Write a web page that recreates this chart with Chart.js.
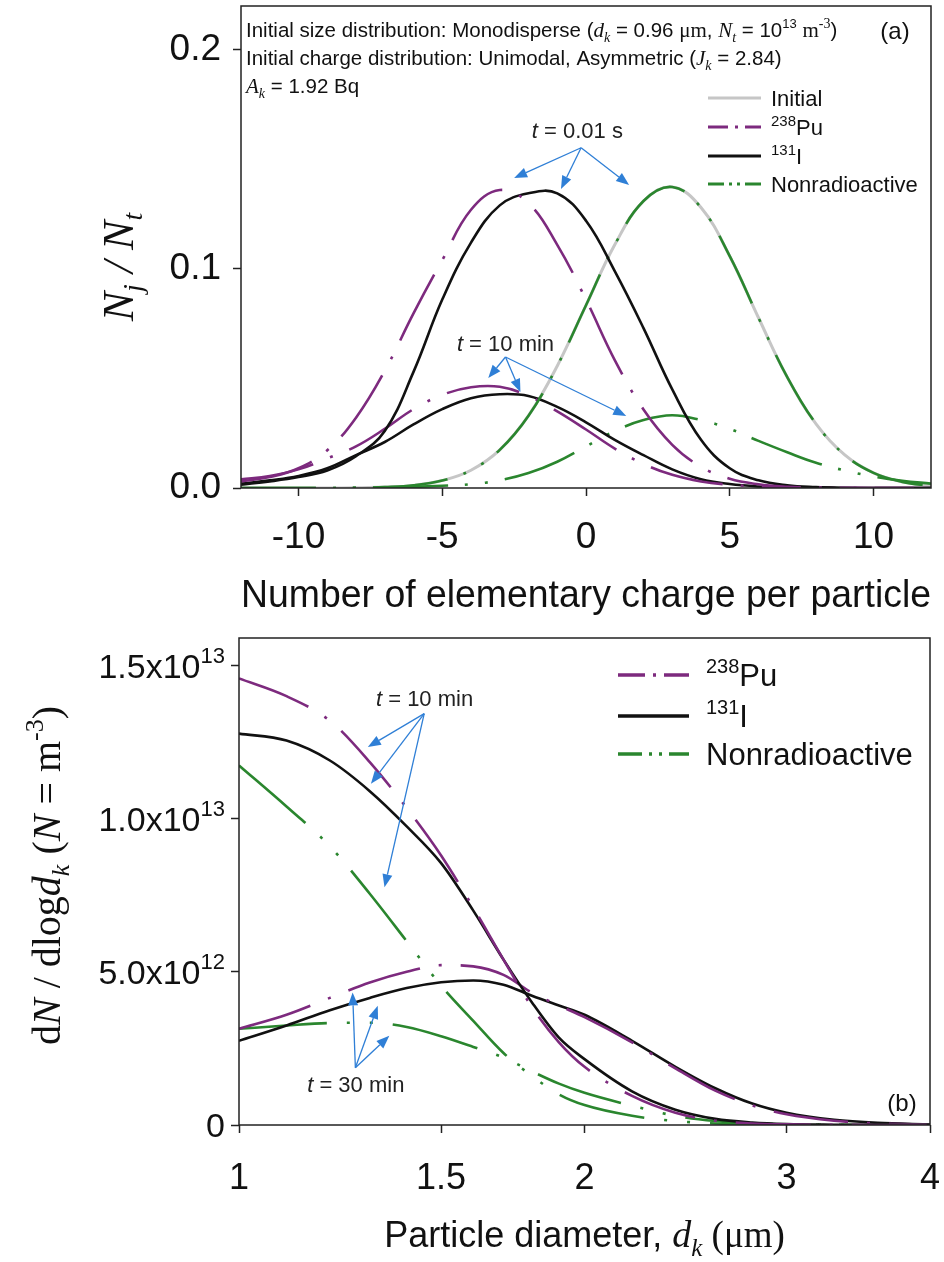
<!DOCTYPE html>
<html>
<head>
<meta charset="utf-8">
<script src="https://cdn.jsdelivr.net/npm/chart.js@4.4.2/dist/chart.umd.min.js"></script>
<style>
  html, body { margin: 0; padding: 0; background: #fff; }
  #wrap { position: relative; width: 944px; height: 1262px; overflow: hidden; }
  canvas { position: absolute; left: 0; }
  #cA { top: 0; }
  #cB { top: 625px; }
</style>
</head>
<body>
<div id="wrap">
  <canvas id="cA" width="944" height="625"></canvas>
  <canvas id="cB" width="944" height="637"></canvas>
</div>
<script>
const SANS = '"Liberation Sans", Arial, sans-serif';
const SERIF = '"Liberation Serif", "Times New Roman", serif';

const PURPLE = '#7d2a7e';
const GREEN = '#2a862e';
const BLACK = '#111111';
const GRAY = '#c6c6c6';
const BLUE = '#2f7fd6';

// --- panel (a): charge distribution ---
const charges = [-12, -11, -10, -9, -8, -7, -6, -5, -4, -3, -2, -1, 0, 1, 2, 3, 4, 5, 6, 7, 8, 9, 10, 11, 12];
const initialA = [0, 0, 0, 0, 0.0001, 0.0004, 0.0012, 0.0034, 0.0081, 0.0174, 0.033, 0.0557, 0.0834, 0.111, 0.131, 0.1374, 0.128, 0.1058, 0.0777, 0.0506, 0.0293, 0.0151, 0.0069, 0.0028, 0.001];
const pu001 = [0.003, 0.005, 0.009, 0.0172, 0.0321, 0.0535, 0.0797, 0.104, 0.127, 0.136, 0.130, 0.111, 0.086, 0.0584, 0.0358, 0.0197, 0.0097, 0.0042, 0.0017, 0.0006, 0.0002, 0.0001, 0, 0, 0];
const i001 = [0.0015, 0.003, 0.005, 0.008, 0.0145, 0.026, 0.053, 0.086, 0.112, 0.129, 0.1345, 0.1345, 0.122, 0.099, 0.073, 0.045, 0.022, 0.009, 0.0035, 0.0012, 0.0004, 0.0001, 0, 0, 0];
const nr001 = [0, 0, 0, 0, 0.0001, 0.0004, 0.0012, 0.0034, 0.0081, 0.0174, 0.033, 0.0557, 0.0834, 0.111, 0.131, 0.1374, 0.128, 0.1058, 0.0777, 0.0506, 0.0293, 0.0151, 0.0069, 0.0028, 0.001];
const pu10a = [0.004, 0.0055, 0.0085, 0.0135, 0.019, 0.027, 0.036, 0.0425, 0.046, 0.0462, 0.042, 0.035, 0.0267, 0.018, 0.011, 0.006, 0.003, 0.0015, 0.0007, 0.0003, 0.0001, 0, 0, 0, 0];
const i10a = [0.002, 0.0035, 0.0055, 0.009, 0.015, 0.021, 0.029, 0.036, 0.041, 0.0428, 0.042, 0.037, 0.03, 0.022, 0.015, 0.0085, 0.004, 0.0018, 0.0007, 0.0003, 0.0001, 0, 0, 0, 0];
const nr10a = [0, 0, 0, 0, 0.0001, 0.0002, 0.0005, 0.001, 0.0017, 0.0035, 0.0068, 0.012, 0.019, 0.026, 0.031, 0.0332, 0.031, 0.027, 0.0215, 0.0163, 0.0115, 0.008, 0.0052, 0.0033, 0.002];
const xTicksA = [-10, -5, 0, 5, 10];
const yTicksA = [0, 0.1, 0.2];

// --- panel (b): size distribution ---
const diameters = [1, 1.1, 1.2, 1.3, 1.4, 1.5, 1.6, 1.7, 1.8, 1.9, 2.0, 2.2, 2.4, 2.6, 2.8, 3.0, 3.3, 3.6, 4.0];
const pu10b = [1.458e13, 1.40e13, 1.32e13, 1.185e13, 1.035e13, 0.88e13, 0.71e13, 0.54e13, 0.385e13, 0.27e13, 0.19e13, 0.095e13, 0.04e13, 0.014e13, 0.005e13, 0.002e13, 0.0005e13, 0.0001e13, 0];
const i10b = [1.278e13, 1.255e13, 1.19e13, 1.09e13, 0.975e13, 0.855e13, 0.70e13, 0.54e13, 0.40e13, 0.285e13, 0.215e13, 0.11e13, 0.05e13, 0.02e13, 0.008e13, 0.003e13, 0.001e13, 0.0003e13, 0.0001e13];
const nr10b = [1.174e13, 1.04e13, 0.91e13, 0.755e13, 0.60e13, 0.455e13, 0.34e13, 0.235e13, 0.16e13, 0.10e13, 0.065e13, 0.03e13, 0.013e13, 0.005e13, 0.002e13, 0.001e13, 0.0003e13, 0.0001e13, 0];
const pu30b = [0.314e13, 0.36e13, 0.415e13, 0.465e13, 0.50e13, 0.522e13, 0.518e13, 0.49e13, 0.432e13, 0.39e13, 0.352e13, 0.27e13, 0.185e13, 0.112e13, 0.064e13, 0.035e13, 0.014e13, 0.005e13, 0.001e13];
const i30b = [0.275e13, 0.325e13, 0.375e13, 0.415e13, 0.447e13, 0.466e13, 0.472e13, 0.458e13, 0.422e13, 0.39e13, 0.36e13, 0.275e13, 0.19e13, 0.12e13, 0.07e13, 0.04e13, 0.017e13, 0.007e13, 0.002e13];
const nr30b = [0.314e13, 0.325e13, 0.333e13, 0.334e13, 0.32e13, 0.29e13, 0.255e13, 0.22e13, 0.175e13, 0.135e13, 0.105e13, 0.063e13, 0.03e13, 0.013e13, 0.005e13, 0.002e13, 0.0006e13, 0.0002e13, 0];
const xTicksB = [1, 1.5, 2, 3, 4];
const yTicksB = [0, 5e12, 1e13, 1.5e13];
const yTickLabelsB = [['0', ''], ['5.0x10', '12'], ['1.0x10', '13'], ['1.5x10', '13']];

// callouts in data units
const calloutsA = [
  { text: '0.01 s', at: [-0.3, 0.1634], from: [-0.17, 0.1553], to: [[-2.5, 0.1415], [-0.87, 0.1365], [1.5, 0.1383]] },
  { text: '10 min', at: [-2.8, 0.066], from: [-2.8, 0.0598], to: [[-3.4, 0.0502], [-2.28, 0.0438], [1.4, 0.0329]] }
];
const calloutsB = [
  { text: '10 min', at: [1.451, 1.393e13], from: [1.45, 1.343e13], to: [[1.295, 1.234e13], [1.303, 1.114e13], [1.339, 0.776e13]] },
  { text: '30 min', at: [1.264, 0.134e13], from: [1.263, 0.187e13], to: [[1.256, 0.433e13], [1.321, 0.389e13], [1.352, 0.291e13]] }
];

const DASH_PU_A = [74, 18, 3, 18];
const DASH_NR_A = [75, 17, 3, 17, 3, 17];
const DASH_PU_B = [75, 19, 3, 19];
const DASH_NR_B = [88, 20, 3, 20, 3, 20];

function rich(ctx, x, y, runs, align) {
  let w = 0;
  for (const r of runs) { ctx.font = r[1]; w += ctx.measureText(r[0]).width; }
  let cx = align === 'center' ? x - w / 2 : align === 'right' ? x - w : x;
  ctx.textAlign = 'left';
  ctx.textBaseline = 'alphabetic';
  for (const r of runs) {
    ctx.font = r[1];
    ctx.fillText(r[0], cx, y + (r[2] || 0));
    cx += ctx.measureText(r[0]).width;
  }
  return w;
}

function arrow(ctx, x0, y0, x1, y1) {
  const ang = Math.atan2(y1 - y0, x1 - x0);
  const L = 13, W = 5;
  const bx = x1 - L * Math.cos(ang), by = y1 - L * Math.sin(ang);
  ctx.beginPath(); ctx.moveTo(x0, y0); ctx.lineTo(bx, by); ctx.stroke();
  ctx.beginPath();
  ctx.moveTo(x1, y1);
  ctx.lineTo(bx + W * Math.sin(ang), by - W * Math.cos(ang));
  ctx.lineTo(bx - W * Math.sin(ang), by + W * Math.cos(ang));
  ctx.closePath(); ctx.fill();
}

function drawCallouts(ctx, x, y, list) {
  ctx.save();
  ctx.strokeStyle = BLUE; ctx.fillStyle = BLUE; ctx.lineWidth = 1.3;
  list.forEach(c => {
    const ox = x.getPixelForValue(c.from[0]), oy = y.getPixelForValue(c.from[1]);
    c.to.forEach(t => arrow(ctx, ox, oy, x.getPixelForValue(t[0]), y.getPixelForValue(t[1])));
  });
  ctx.fillStyle = '#222';
  list.forEach(c => {
    rich(ctx, x.getPixelForValue(c.at[0]), y.getPixelForValue(c.at[1]) + 8,
      [['t', 'italic 22px ' + SANS], [' = ' + c.text, '22px ' + SANS]], 'center');
  });
  ctx.restore();
}

function drawLegend(ctx, items, x0, x1, tx, ys, size, width) {
  items.forEach((it, i) => {
    const y = ys[i];
    ctx.save();
    ctx.strokeStyle = it.color; ctx.lineWidth = width; ctx.setLineDash(it.dash);
    ctx.beginPath(); ctx.moveTo(x0, y); ctx.lineTo(x1, y); ctx.stroke();
    ctx.restore();
    ctx.fillStyle = '#111';
    const sup = Math.round(size * 0.66);
    const runs = it.sup ? [[it.sup, sup + 'px ' + SANS, -size * 0.42], [it.name, size + 'px ' + SANS]] : [[it.name, size + 'px ' + SANS]];
    rich(ctx, tx, y + size * 0.36, runs, 'left');
  });
}

function frame(ctx, a) {
  ctx.save();
  ctx.strokeStyle = '#222'; ctx.lineWidth = 1.5;
  ctx.strokeRect(a.left, a.top, a.right - a.left, a.bottom - a.top);
  ctx.restore();
}

function ds(label, xs, ys, color, dash, width, order, smooth) {
  return {
    label: label,
    data: xs.map((v, i) => ({ x: v, y: ys[i] })),
    borderColor: color,
    borderWidth: width,
    borderDash: dash,
    pointRadius: 0,
    fill: false,
    cubicInterpolationMode: smooth === 'spline' ? 'default' : 'monotone',
    tension: 0.4,
    order: order
  };
}

const decorA = {
  id: 'decorA',
  afterDraw(chart) {
    const { ctx, chartArea: a, scales: { x, y } } = chart;
    frame(ctx, a);
    ctx.save();
    ctx.fillStyle = '#111';
    const f = '20.5px ' + SANS, fi = 'italic 21px ' + SERIF, fs = 'italic 14px ' + SERIF;
    const l = a.left + 5;
    rich(ctx, l, a.top + 31, [
      ['Initial size distribution: Monodisperse (', f], ['d', fi], ['k', fs, 5], [' = 0.96 ', f], ['\u03bcm', '21px ' + SERIF],
      [', ', f], ['N', fi], ['t', fs, 5], [' = 10', f], ['13', '13px ' + SANS, -9], [' ', f], ['m', '21px ' + SERIF], ['-3', '14px ' + SERIF, -9], [')', f]
    ], 'left');
    rich(ctx, l, a.top + 59, [
      ['Initial charge distribution: Unimodal, Asymmetric (', f], ['J', fi], ['k', fs, 5], [' = 2.84)', f]
    ], 'left');
    rich(ctx, l, a.top + 87, [['A', fi], ['k', fs, 5], [' = 1.92 Bq', f]], 'left');
    rich(ctx, a.right - 36, a.top + 33, [['(a)', '24px ' + SANS]], 'center');

    const d = chart.data.datasets;
    drawLegend(ctx, [
      { name: 'Initial', color: d[0].borderColor, dash: [] },
      { name: 'Pu', sup: '238', color: d[1].borderColor, dash: [20, 7, 3, 7] },
      { name: 'I', sup: '131', color: d[2].borderColor, dash: [] },
      { name: 'Nonradioactive', color: d[3].borderColor, dash: [16, 5, 3, 5, 3, 5] }
    ], a.right - 223, a.right - 170, a.right - 160, [a.top + 92, a.top + 121, a.top + 150, a.top + 178], 22, 3);

    drawCallouts(ctx, x, y, calloutsA);

    // y title
    ctx.fillStyle = '#111';
    ctx.translate(118, (a.top + a.bottom) / 2 + 20);
    ctx.rotate(-Math.PI / 2);
    const t1 = 'italic 44px ' + SERIF, t2 = 'italic 28px ' + SERIF;
    rich(ctx, 0, 15, [['N', t1], ['j', t2, 9], [' / ', t1], ['N', t1], ['t', t2, 9]], 'center');
    ctx.restore();
  }
};

const decorB = {
  id: 'decorB',
  afterDraw(chart) {
    const { ctx, chartArea: a, scales: { x, y } } = chart;
    frame(ctx, a);
    ctx.save();
    ctx.fillStyle = '#111';
    // y tick labels with exponents
    yTicksB.forEach((v, i) => {
      const py = y.getPixelForValue(v);
      const lab = yTickLabelsB[i];
      rich(ctx, a.left - 14, py + 12, [[lab[0], '34px ' + SANS], [lab[1], '22px ' + SANS, -15]], 'right');
    });

    const d = chart.data.datasets;
    drawLegend(ctx, [
      { name: 'Pu', sup: '238', color: d[0].borderColor, dash: [27, 8, 3, 8] },
      { name: 'I', sup: '131', color: d[1].borderColor, dash: [] },
      { name: 'Nonradioactive', color: d[2].borderColor, dash: [24, 7, 3, 7, 3, 7] }
    ], a.right - 312, a.right - 241, a.right - 224, [a.top + 37, a.top + 78, a.top + 116], 31, 3.5);

    drawCallouts(ctx, x, y, calloutsB);
    rich(ctx, a.right - 28, a.bottom - 14, [['(b)', '24px ' + SANS]], 'center');

    // x title
    ctx.fillStyle = '#111';
    rich(ctx, (a.left + a.right) / 2, a.bottom + 122, [
      ['Particle diameter, ', '36px ' + SANS], ['d', 'italic 38px ' + SERIF], ['k', 'italic 25px ' + SERIF, 9], [' (\u03bcm)', '37px ' + SERIF]
    ], 'center');

    // y title
    ctx.translate(46, (a.top + a.bottom) / 2 - 6);
    ctx.rotate(-Math.PI / 2);
    const r = '40px ' + SERIF, it = 'italic 40px ' + SERIF, sm = 'italic 26px ' + SERIF;
    rich(ctx, 0, 14, [
      ['d', r], ['N', it], [' / dlog', r], ['d', it], ['k', sm, 9], [' (', r], ['N', it], [' = m', r], ['-3', '26px ' + SERIF, -17], [')', r]
    ], 'center');
    ctx.restore();
  }
};

const tickFont = { family: SANS, size: 37 };
const gridOpts = { drawOnChartArea: false, drawTicks: true, tickLength: 8, tickColor: '#222', tickWidth: 1.5 };

function fixX(h) {
  return s => { s.height = h; s.paddingLeft = 0; s.paddingRight = 0; };
}
function fixY(w) {
  return s => { s.width = w; s.paddingTop = 0; s.paddingBottom = 0; };
}

new Chart(document.getElementById('cA'), {
  type: 'line',
  data: {
    datasets: [
      ds('Initial', charges, initialA, GRAY, [], 3, 5, 'spline'),
      ds('238Pu t = 0.01 s', charges, pu001, PURPLE, DASH_PU_A, 2.6, 1, 'spline'),
      ds('131I t = 0.01 s', charges, i001, BLACK, [], 2.6, 1, 'spline'),
      ds('Nonradioactive t = 0.01 s', charges, nr001, GREEN, DASH_NR_A, 2.6, 1, 'spline'),
      ds('238Pu t = 10 min', charges, pu10a, PURPLE, DASH_PU_A, 2.6, 1, 'spline'),
      ds('131I t = 10 min', charges, i10a, BLACK, [], 2.6, 1, 'spline'),
      ds('Nonradioactive t = 10 min', charges, nr10a, GREEN, DASH_NR_A, 2.6, 1, 'spline')
    ]
  },
  options: {
    responsive: false,
    animation: false,
    devicePixelRatio: 1,
    layout: { padding: { top: 6, right: 13, left: 0, bottom: 0 } },
    plugins: { legend: { display: false }, tooltip: { enabled: false } },
    scales: {
      x: {
        type: 'linear', min: -12, max: 12,
        afterBuildTicks: s => { s.ticks = xTicksA.map(v => ({ value: v })); },
        afterFit: fixX(137),
        grid: gridOpts,
        border: { display: false },
        ticks: { font: tickFont, color: '#111', padding: 20, maxRotation: 0, callback: v => String(v) },
        title: { display: true, text: 'Number of elementary charge per particle', font: { family: SANS, size: 39 }, color: '#111', padding: { top: 0, bottom: 5 } }
      },
      y: {
        min: 0, max: 0.22,
        afterBuildTicks: s => { s.ticks = yTicksA.map(v => ({ value: v })); },
        afterFit: fixY(241),
        grid: gridOpts,
        border: { display: false },
        ticks: { font: tickFont, color: '#111', padding: 12, callback: v => v.toFixed(1) }
      }
    }
  },
  plugins: [decorA]
});

new Chart(document.getElementById('cB'), {
  type: 'line',
  data: {
    datasets: [
      ds('238Pu t = 10 min', diameters, pu10b, PURPLE, DASH_PU_B, 2.6, 1),
      ds('131I t = 10 min', diameters, i10b, BLACK, [], 2.6, 1),
      ds('Nonradioactive t = 10 min', diameters, nr10b, GREEN, DASH_NR_B, 2.6, 1),
      ds('238Pu t = 30 min', diameters, pu30b, PURPLE, DASH_PU_B, 2.6, 1),
      ds('131I t = 30 min', diameters, i30b, BLACK, [], 2.6, 1),
      ds('Nonradioactive t = 30 min', diameters, nr30b, GREEN, DASH_NR_B, 2.6, 1)
    ]
  },
  options: {
    responsive: false,
    animation: false,
    devicePixelRatio: 1,
    layout: { padding: { top: 13, right: 14, left: 0, bottom: 0 } },
    plugins: { legend: { display: false }, tooltip: { enabled: false } },
    scales: {
      x: {
        type: 'logarithmic', min: 1, max: 4,
        afterBuildTicks: s => { s.ticks = xTicksB.map(v => ({ value: v })); },
        afterFit: fixX(137),
        grid: gridOpts,
        border: { display: false },
        ticks: { font: { family: SANS, size: 36 }, color: '#111', padding: 24, maxRotation: 0, autoSkip: false, callback: v => String(v) }
      },
      y: {
        min: 0, max: 1.59e13,
        afterBuildTicks: s => { s.ticks = yTicksB.map(v => ({ value: v })); },
        afterFit: fixY(239),
        grid: gridOpts,
        border: { display: false },
        ticks: { display: false }
      }
    }
  },
  plugins: [decorB]
});
</script>
</body>
</html>
